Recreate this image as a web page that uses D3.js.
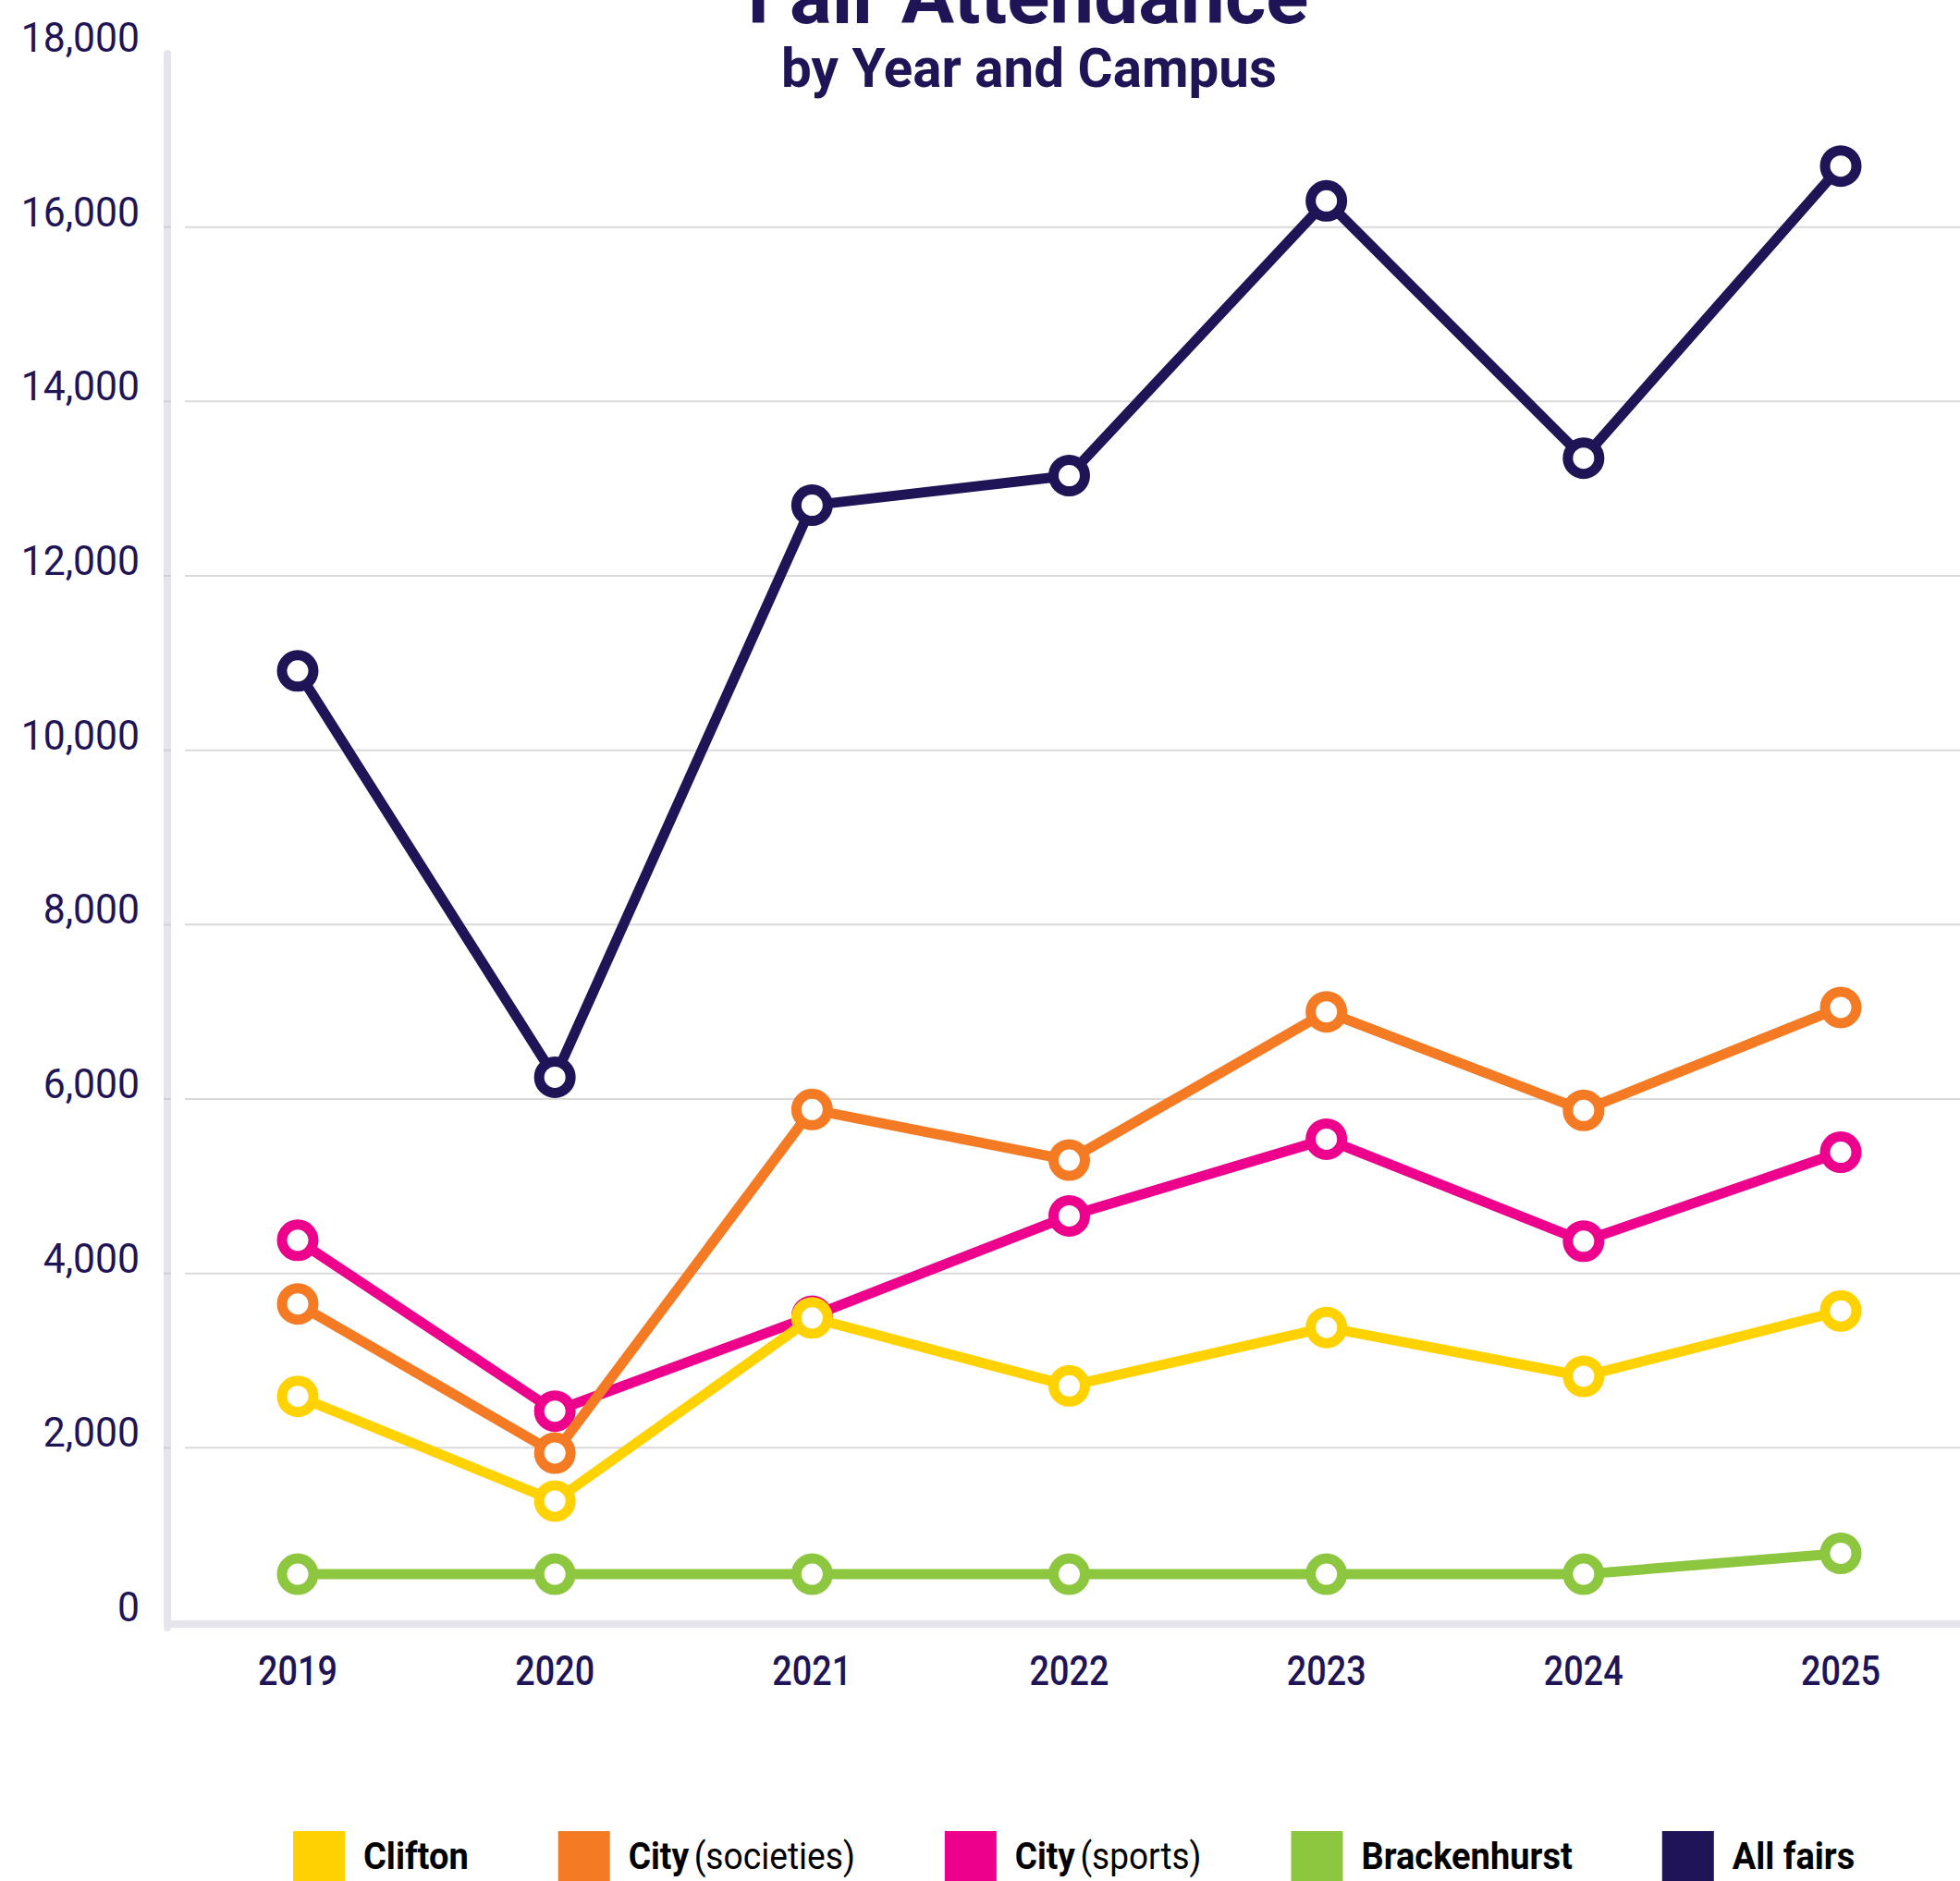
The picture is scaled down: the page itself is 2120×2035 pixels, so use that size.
<!DOCTYPE html>
<html>
<head>
<meta charset="utf-8">
<script src="https://cdn.jsdelivr.net/npm/d3@7"></script>
<style>
  html, body { margin: 0; padding: 0; background: #ffffff; }
  svg { display: block; }
</style>
</head>
<body>
<svg id="chart" width="2120" height="2035"></svg>
<script>
// ---- data ----
const years = ["2019", "2020", "2021", "2022", "2023", "2024", "2025"];
const yTicks = [0, 2000, 4000, 6000, 8000, 10000, 12000, 14000, 16000, 18000];
const clifton      = [2590, 1390, 3490, 2710, 3380, 2820, 3570];
const citySocieties = [3650, 1940, 5880, 5300, 7000, 5870, 7050];
const citySports   = [4380, 2420, 3510, 4660, 5540, 4370, 5390];
const brackenhurst = [550, 550, 550, 550, 550, 550, 790];
const allFairs     = [10910, 6250, 12810, 13150, 16300, 13350, 16700];
const seriesNames  = ["Clifton", "City (societies)", "City (sports)", "Brackenhurst", "All fairs"];
const legendBold   = ["Clifton", "City", "City", "Brackenhurst", "All fairs"];
const legendRest   = ["", "(societies)", "(sports)", "", ""];
const seriesColors = ["#FFD200", "#F47A24", "#EC008C", "#8DC63F", "#1E1456"];
const seriesValues = [clifton, citySocieties, citySports, brackenhurst, allFairs];

const NAVY = "#1E1456";
const svg = d3.select("#chart");

const x = d3.scalePoint().domain(years).range([322, 1991]);
const y = d3.scaleLinear().domain([0, 18000]).range([1755, 57]);

function squeeze(sel, k) {
  sel.each(function () {
    const w = this.getComputedTextLength();
    d3.select(this).attr("textLength", w * k).attr("lengthAdjust", "spacingAndGlyphs");
  });
}

// ---- gridlines ----
svg.append("g").selectAll("line.grid")
  .data(yTicks.filter(d => d > 0 && d < 18000))
  .join("line")
  .attr("x1", 200).attr("x2", 2120)
  .attr("y1", d => y(d)).attr("y2", d => y(d))
  .attr("stroke", "#d9d9d9").attr("stroke-width", 2);

// ---- axes lines ----
svg.append("line")
  .attr("x1", 181).attr("x2", 181)
  .attr("y1", 58).attr("y2", 1761)
  .attr("stroke", "#e6e5ee").attr("stroke-width", 8).attr("stroke-linecap", "round");
svg.append("rect")
  .attr("x", 177).attr("y", 1753).attr("width", 1943).attr("height", 8)
  .attr("fill", "#e6e5ee");
svg.append("g").selectAll("line.tick")
  .data(yTicks.filter(d => d > 0 && d < 18000))
  .join("line")
  .attr("x1", 177).attr("x2", 185)
  .attr("y1", d => y(d)).attr("y2", d => y(d))
  .attr("stroke", "#cfcfd6").attr("stroke-width", 2);

// ---- y labels ----
const fmt = d3.format(",");
svg.append("g").selectAll("text")
  .data(yTicks)
  .join("text")
  .attr("x", 151).attr("y", d => y(d) - 1)
  .attr("text-anchor", "end")
  .attr("font-family", "Roboto, 'Noto Sans', sans-serif")
  .attr("font-size", 44)
  .attr("fill", NAVY)
  .text(d => fmt(d))
  .call(squeeze, 0.97);

// ---- x labels ----
svg.append("g").selectAll("text")
  .data(years)
  .join("text")
  .attr("x", d => x(d)).attr("y", 1823)
  .attr("text-anchor", "middle")
  .attr("font-family", "Roboto, 'Noto Sans', sans-serif")
  .attr("font-weight", 500)
  .attr("font-size", 45)
  .attr("fill", NAVY)
  .text(d => d)
  .call(squeeze, 0.84);

// ---- series (drawn in reverse so Clifton is on top) ----
const line = d3.line().x((d, i) => x(years[i])).y(d => y(d));
const order = [4, 3, 2, 1, 0];
order.forEach(si => {
  const g = svg.append("g");
  g.append("path")
    .datum(seriesValues[si])
    .attr("d", line)
    .attr("fill", "none")
    .attr("stroke", seriesColors[si])
    .attr("stroke-width", 11)
    .attr("stroke-linejoin", "round");
  g.selectAll("circle")
    .data(seriesValues[si])
    .join("circle")
    .attr("cx", (d, i) => x(years[i]))
    .attr("cy", d => y(d))
    .attr("r", 17)
    .attr("fill", "#ffffff")
    .attr("stroke", seriesColors[si])
    .attr("stroke-width", 11);
});

// ---- title ----
svg.append("text")
  .attr("x", 1112).attr("y", 25)
  .attr("text-anchor", "middle")
  .attr("font-family", "Roboto, 'Noto Sans', sans-serif")
  .attr("font-weight", 700)
  .attr("font-size", 84)
  .attr("fill", NAVY)
  .text("Fair Attendance")
  .attr("textLength", 607).attr("lengthAdjust", "spacingAndGlyphs");
svg.append("text")
  .attr("x", 1113).attr("y", 94)
  .attr("text-anchor", "middle")
  .attr("font-family", "Roboto, 'Noto Sans', sans-serif")
  .attr("font-weight", 700)
  .attr("font-size", 60)
  .attr("fill", NAVY)
  .text("by Year and Campus")
  .attr("textLength", 536).attr("lengthAdjust", "spacingAndGlyphs");

// ---- legend ----
const legend = svg.append("g");
let lx = 317;
seriesNames.forEach((name, i) => {
  legend.append("rect")
    .attr("x", lx).attr("y", 1981).attr("width", 56).attr("height", 56)
    .attr("fill", seriesColors[i]);
  const t = legend.append("text")
    .attr("x", lx + 76).attr("y", 2022)
    .attr("font-family", "Roboto, 'Noto Sans', sans-serif")
    .attr("font-size", 40)
    .attr("fill", "#000000");
  t.append("tspan").attr("font-weight", 700).text(legendBold[i]);
  if (legendRest[i]) t.append("tspan").attr("font-weight", 400).attr("dx", 6).text(legendRest[i]);
  const w = t.node().getComputedTextLength() * 0.95;
  t.attr("textLength", w).attr("lengthAdjust", "spacingAndGlyphs");
  lx += 76 + w + 97;
});
</script>
</body>
</html>
